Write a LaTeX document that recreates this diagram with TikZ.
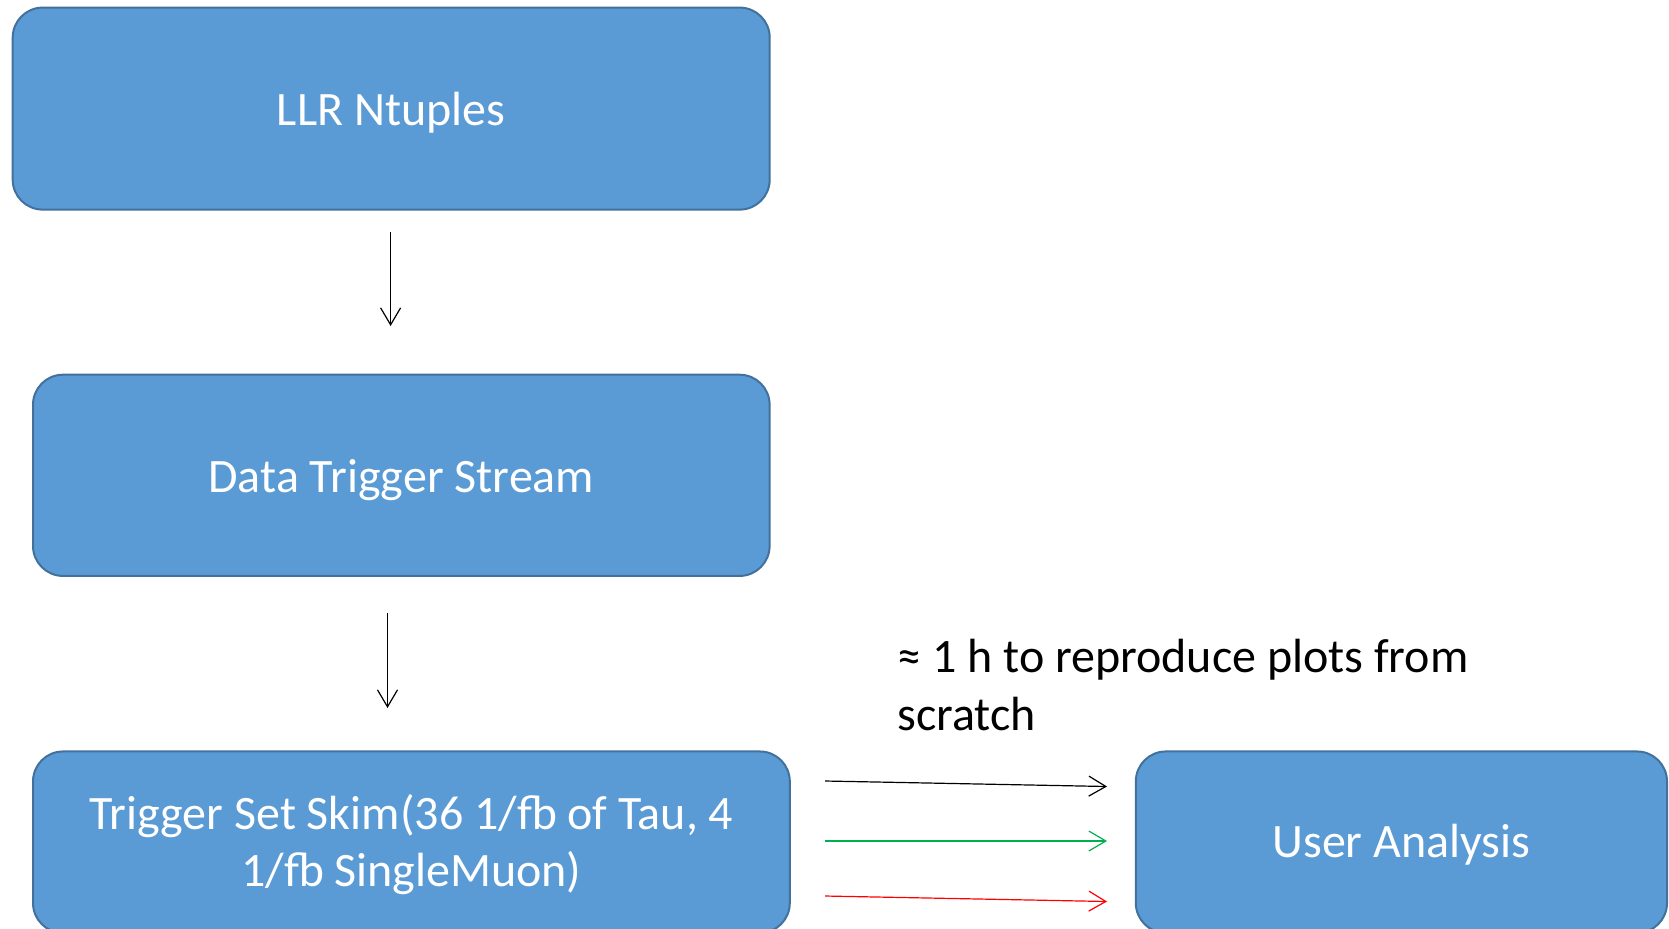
\documentclass[tikz,border=0pt]{standalone}
\usepackage{fontspec}
\setmainfont{Carlito}
\usetikzlibrary{arrows.meta}
\definecolor{boxfill}{HTML}{5B9BD5}
\definecolor{boxline}{HTML}{41719C}
\definecolor{arrgreen}{HTML}{00B050}
\definecolor{arrred}{HTML}{FF0000}
\newcommand{\lowtext}[2]{\raisebox{-#1}[\height][\depth]{#2}}
\tikzset{
  flowbox/.style={draw=boxline, line width=1pt, fill=boxfill, rounded corners=15pt,
    text=white, align=center, font=\fontsize{24}{28.75}\selectfont, inner sep=0pt},
  flowarrow/.style={line width=0.6pt, -{Straight Barb[length=8.5pt,width=10pt]}},
}
\begin{document}
\begin{tikzpicture}[x=0.5pt,y=-0.5pt]
\clip (0,0) rectangle (1669,928);
\useasboundingbox (0,0) rectangle (1669,928);
\fill[white] (0,0) rectangle (1669,928);
\node[flowbox, minimum width=378.5pt, minimum height=101pt] (llr) at (391.2,108.6) {\lowtext{2.2pt}{LLR Ntuples}};
\node[flowbox, minimum width=368.3pt, minimum height=100.6pt] (data) at (401.3,475.3) {\lowtext{2.4pt}{Data Trigger Stream}};
\node[flowbox, minimum width=378.4pt, minimum height=90.75pt] (skim) at (411.4,842.2) {\lowtext{1.1pt}{Trigger Set Skim(36 1/fb of Tau, 4}\\\lowtext{1.1pt}{1/fb SingleMuon)}};
\node[flowbox, minimum width=265.6pt, minimum height=90.75pt] (user) at (1401.4,842.2) {\lowtext{1.1pt}{User Analysis}};
\node[anchor=north west, inner sep=0pt, align=left, font=\fontsize{24}{28.75}\selectfont] (note) at (897,639) {≈ 1 h to reproduce plots from\\scratch};
\coordinate (a1s) at (390.6,232);
\coordinate (a1e) at (390.6,326);
\coordinate (a2s) at (387.5,613);
\coordinate (a2e) at (387.5,708);
\coordinate (b1s) at (825,781);
\coordinate (b1e) at (1107,786.5);
\coordinate (b2s) at (825,841);
\coordinate (b2e) at (1107,841);
\coordinate (b3s) at (825,896);
\coordinate (b3e) at (1107,901.5);
\draw[flowarrow] (a1s) -- (a1e);
\draw[flowarrow] (a2s) -- (a2e);
\draw[flowarrow, black] (b1s) -- (b1e);
\draw[flowarrow, arrgreen] (b2s) -- (b2e);
\draw[flowarrow, arrred] (b3s) -- (b3e);
\end{tikzpicture}
\end{document}
